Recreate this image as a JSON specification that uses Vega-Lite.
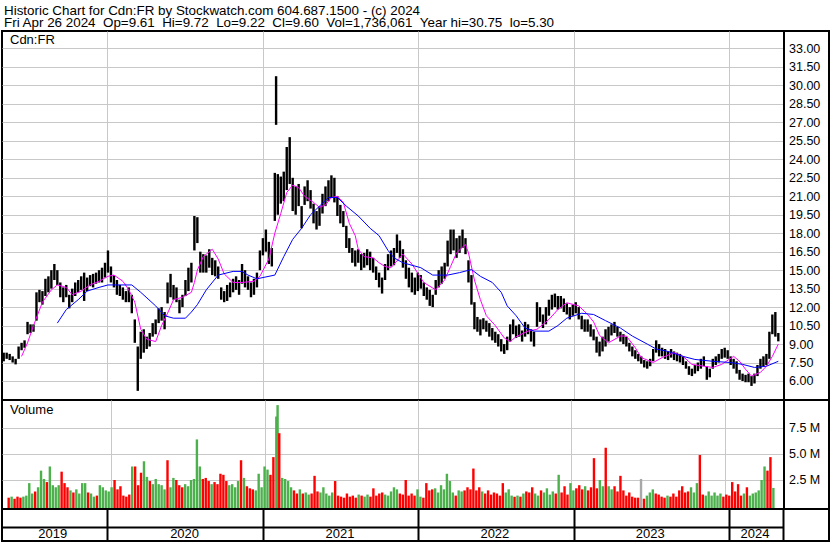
{
"$schema": "https://vega.github.io/schema/vega-lite/v6.json",
"padding": {"left": 1, "top": 1, "right": 1, "bottom": 1},
"background": "white",
"spacing": 0,
"bounds": "flush",
"config": {
  "font": "Liberation Sans",
  "view": {"stroke": "black", "strokeWidth": 2},
  "title": {"fontWeight": "normal", "color": "black", "fontSize": 13, "anchor": "start", "frame": "group", "font": "Liberation Sans"},
  "axis": {"labelColor": "black", "title": null, "labelOverlap": false, "labelFont": "Liberation Sans"},
  "axisY": {"labelOverlap": false}
},
"datasets": {
"px": [
{"d":"2019-05-03","l":7.6,"h":8.3,"v":800000,"u":"d"},
{"d":"2019-05-10","l":7.8,"h":8.3,"v":900000,"u":"u"},
{"d":"2019-05-17","l":7.7,"h":8.2,"v":700000,"u":"d"},
{"d":"2019-05-24","l":7.5,"h":8.0,"v":900000,"u":"d"},
{"d":"2019-05-31","l":7.35,"h":7.8,"v":800000,"u":"d"},
{"d":"2019-06-07","l":7.8,"h":8.8,"v":900000,"u":"u"},
{"d":"2019-06-14","l":8.5,"h":9.1,"v":1000000,"u":"u"},
{"d":"2019-06-21","l":8.7,"h":9.3,"v":2200000,"u":"u"},
{"d":"2019-06-28","l":9.8,"h":10.8,"v":1200000,"u":"u"},
{"d":"2019-07-05","l":9.9,"h":10.6,"v":1400000,"u":"d"},
{"d":"2019-07-12","l":10.0,"h":10.6,"v":1800000,"u":"u"},
{"d":"2019-07-19","l":10.9,"h":13.2,"v":3400000,"u":"u"},
{"d":"2019-07-26","l":12.4,"h":13.4,"v":2600000,"u":"u"},
{"d":"2019-08-02","l":12.2,"h":13.3,"v":2300000,"u":"d"},
{"d":"2019-08-09","l":12.9,"h":14.3,"v":3800000,"u":"u"},
{"d":"2019-08-16","l":13.2,"h":14.5,"v":2000000,"u":"u"},
{"d":"2019-08-23","l":13.5,"h":15.0,"v":1800000,"u":"u"},
{"d":"2019-08-30","l":14.2,"h":15.5,"v":2000000,"u":"u"},
{"d":"2019-09-06","l":13.8,"h":15.0,"v":3300000,"u":"d"},
{"d":"2019-09-13","l":12.8,"h":14.0,"v":2200000,"u":"d"},
{"d":"2019-09-20","l":12.4,"h":13.6,"v":1800000,"u":"d"},
{"d":"2019-09-27","l":12.8,"h":13.8,"v":1500000,"u":"u"},
{"d":"2019-10-04","l":11.9,"h":13.0,"v":1300000,"u":"d"},
{"d":"2019-10-11","l":12.4,"h":13.5,"v":1600000,"u":"u"},
{"d":"2019-10-18","l":12.9,"h":14.0,"v":1200000,"u":"u"},
{"d":"2019-10-25","l":13.2,"h":14.2,"v":2200000,"u":"u"},
{"d":"2019-11-01","l":13.4,"h":14.5,"v":2200000,"u":"u"},
{"d":"2019-11-08","l":12.5,"h":14.8,"v":1300000,"u":"d"},
{"d":"2019-11-15","l":13.3,"h":14.4,"v":1200000,"u":"u"},
{"d":"2019-11-22","l":13.7,"h":14.6,"v":900000,"u":"u"},
{"d":"2019-11-29","l":13.6,"h":14.7,"v":1000000,"u":"d"},
{"d":"2019-12-06","l":13.9,"h":14.8,"v":2000000,"u":"u"},
{"d":"2019-12-13","l":14.0,"h":15.0,"v":1800000,"u":"u"},
{"d":"2019-12-20","l":14.0,"h":15.2,"v":1500000,"u":"u"},
{"d":"2019-12-27","l":14.4,"h":15.6,"v":1400000,"u":"u"},
{"d":"2020-01-03","l":14.8,"h":16.6,"v":1800000,"u":"u"},
{"d":"2020-01-10","l":14.0,"h":15.3,"v":2500000,"u":"d"},
{"d":"2020-01-17","l":13.6,"h":14.6,"v":1600000,"u":"d"},
{"d":"2020-01-24","l":13.0,"h":14.2,"v":1900000,"u":"d"},
{"d":"2020-01-31","l":12.9,"h":13.8,"v":1000000,"u":"d"},
{"d":"2020-02-07","l":12.6,"h":13.6,"v":900000,"u":"d"},
{"d":"2020-02-14","l":12.4,"h":13.3,"v":1100000,"u":"d"},
{"d":"2020-02-21","l":12.4,"h":13.6,"v":3800000,"u":"u"},
{"d":"2020-02-28","l":11.5,"h":13.0,"v":3800000,"u":"d"},
{"d":"2020-03-06","l":9.1,"h":11.0,"v":2000000,"u":"d"},
{"d":"2020-03-13","l":5.2,"h":8.8,"v":3200000,"u":"d"},
{"d":"2020-03-20","l":7.8,"h":10.0,"v":4300000,"u":"u"},
{"d":"2020-03-27","l":8.3,"h":10.2,"v":2800000,"u":"u"},
{"d":"2020-04-03","l":8.6,"h":9.6,"v":2400000,"u":"d"},
{"d":"2020-04-10","l":8.8,"h":9.9,"v":2100000,"u":"u"},
{"d":"2020-04-17","l":9.6,"h":10.7,"v":2600000,"u":"u"},
{"d":"2020-04-24","l":9.8,"h":11.0,"v":2100000,"u":"u"},
{"d":"2020-05-01","l":10.7,"h":11.9,"v":2000000,"u":"u"},
{"d":"2020-05-08","l":10.9,"h":12.0,"v":1600000,"u":"u"},
{"d":"2020-05-15","l":10.2,"h":11.6,"v":4400000,"u":"d"},
{"d":"2020-05-22","l":12.3,"h":14.0,"v":1800000,"u":"u"},
{"d":"2020-05-29","l":12.8,"h":14.7,"v":2700000,"u":"u"},
{"d":"2020-06-05","l":12.6,"h":13.8,"v":2500000,"u":"d"},
{"d":"2020-06-12","l":12.4,"h":13.6,"v":2000000,"u":"d"},
{"d":"2020-06-19","l":11.5,"h":12.6,"v":1800000,"u":"d"},
{"d":"2020-06-26","l":12.0,"h":13.0,"v":2100000,"u":"u"},
{"d":"2020-07-03","l":12.9,"h":14.2,"v":1900000,"u":"u"},
{"d":"2020-07-10","l":13.3,"h":15.2,"v":2500000,"u":"u"},
{"d":"2020-07-17","l":14.0,"h":15.6,"v":2600000,"u":"u"},
{"d":"2020-07-24","l":16.6,"h":19.4,"v":6400000,"u":"u"},
{"d":"2020-07-31","l":17.2,"h":19.3,"v":3800000,"u":"u"},
{"d":"2020-08-07","l":14.8,"h":16.5,"v":2600000,"u":"d"},
{"d":"2020-08-14","l":14.8,"h":16.3,"v":2700000,"u":"d"},
{"d":"2020-08-21","l":14.8,"h":16.2,"v":2400000,"u":"d"},
{"d":"2020-08-28","l":15.2,"h":16.7,"v":2100000,"u":"u"},
{"d":"2020-09-04","l":14.6,"h":16.0,"v":2300000,"u":"d"},
{"d":"2020-09-11","l":14.5,"h":15.8,"v":2100000,"u":"d"},
{"d":"2020-09-18","l":14.3,"h":15.3,"v":3100000,"u":"d"},
{"d":"2020-09-25","l":12.6,"h":13.6,"v":3000000,"u":"d"},
{"d":"2020-10-02","l":12.4,"h":13.3,"v":2400000,"u":"d"},
{"d":"2020-10-09","l":12.5,"h":13.8,"v":2000000,"u":"u"},
{"d":"2020-10-16","l":12.8,"h":14.0,"v":2100000,"u":"u"},
{"d":"2020-10-23","l":13.2,"h":14.3,"v":1800000,"u":"u"},
{"d":"2020-10-30","l":13.4,"h":14.5,"v":2400000,"u":"u"},
{"d":"2020-11-06","l":13.0,"h":14.2,"v":4400000,"u":"d"},
{"d":"2020-11-13","l":13.9,"h":15.5,"v":2700000,"u":"u"},
{"d":"2020-11-20","l":13.6,"h":15.0,"v":1900000,"u":"d"},
{"d":"2020-11-27","l":13.4,"h":14.5,"v":1700000,"u":"d"},
{"d":"2020-12-04","l":12.8,"h":14.0,"v":1600000,"u":"d"},
{"d":"2020-12-11","l":13.0,"h":14.3,"v":1500000,"u":"u"},
{"d":"2020-12-18","l":13.6,"h":14.8,"v":3100000,"u":"u"},
{"d":"2020-12-25","l":15.0,"h":16.6,"v":1800000,"u":"u"},
{"d":"2021-01-01","l":16.2,"h":17.6,"v":3800000,"u":"u"},
{"d":"2021-01-08","l":16.5,"h":18.3,"v":3500000,"u":"u"},
{"d":"2021-01-15","l":15.5,"h":17.3,"v":3000000,"u":"d"},
{"d":"2021-01-22","l":15.3,"h":16.8,"v":4700000,"u":"d"},
{"d":"2021-01-29","l":19.0,"h":22.9,"v":8600000,"u":"u"},
{"d":"2021-02-01","l":26.8,"h":30.75,"v":9700000,"u":"u"},
{"d":"2021-02-05","l":19.5,"h":22.8,"v":7000000,"u":"d"},
{"d":"2021-02-12","l":20.4,"h":22.6,"v":2700000,"u":"u"},
{"d":"2021-02-19","l":20.6,"h":23.0,"v":2600000,"u":"u"},
{"d":"2021-02-26","l":21.5,"h":25.0,"v":2400000,"u":"u"},
{"d":"2021-03-05","l":22.0,"h":25.8,"v":1800000,"u":"u"},
{"d":"2021-03-12","l":19.8,"h":22.5,"v":1500000,"u":"d"},
{"d":"2021-03-19","l":19.5,"h":21.8,"v":1200000,"u":"d"},
{"d":"2021-03-26","l":20.2,"h":22.0,"v":1600000,"u":"u"},
{"d":"2021-04-02","l":18.4,"h":20.2,"v":1200000,"u":"d"},
{"d":"2021-04-09","l":20.3,"h":21.8,"v":1300000,"u":"u"},
{"d":"2021-04-16","l":20.6,"h":22.3,"v":1100000,"u":"u"},
{"d":"2021-04-23","l":20.0,"h":21.5,"v":1200000,"u":"d"},
{"d":"2021-04-30","l":18.8,"h":20.4,"v":2900000,"u":"d"},
{"d":"2021-05-07","l":18.3,"h":19.8,"v":1400000,"u":"d"},
{"d":"2021-05-14","l":18.6,"h":20.2,"v":1300000,"u":"u"},
{"d":"2021-05-21","l":19.6,"h":21.2,"v":1800000,"u":"u"},
{"d":"2021-05-28","l":20.2,"h":21.8,"v":1200000,"u":"u"},
{"d":"2021-06-04","l":20.6,"h":22.3,"v":1000000,"u":"u"},
{"d":"2021-06-11","l":20.9,"h":22.7,"v":1300000,"u":"u"},
{"d":"2021-06-18","l":20.5,"h":22.5,"v":2400000,"u":"d"},
{"d":"2021-06-25","l":19.4,"h":21.0,"v":1000000,"u":"d"},
{"d":"2021-07-02","l":18.8,"h":20.3,"v":900000,"u":"d"},
{"d":"2021-07-09","l":18.5,"h":19.8,"v":800000,"u":"d"},
{"d":"2021-07-16","l":16.8,"h":18.6,"v":1200000,"u":"d"},
{"d":"2021-07-23","l":16.4,"h":17.6,"v":900000,"u":"d"},
{"d":"2021-07-30","l":15.6,"h":16.8,"v":1000000,"u":"d"},
{"d":"2021-08-06","l":15.3,"h":16.6,"v":800000,"u":"d"},
{"d":"2021-08-13","l":15.6,"h":16.7,"v":1100000,"u":"u"},
{"d":"2021-08-20","l":15.0,"h":16.3,"v":1000000,"u":"d"},
{"d":"2021-08-27","l":15.2,"h":16.4,"v":900000,"u":"u"},
{"d":"2021-09-03","l":15.4,"h":16.7,"v":1100000,"u":"u"},
{"d":"2021-09-10","l":15.0,"h":16.5,"v":900000,"u":"d"},
{"d":"2021-09-17","l":14.8,"h":16.0,"v":1700000,"u":"d"},
{"d":"2021-09-24","l":14.2,"h":15.3,"v":1000000,"u":"d"},
{"d":"2021-10-01","l":13.6,"h":14.8,"v":1200000,"u":"d"},
{"d":"2021-10-08","l":13.1,"h":14.4,"v":1300000,"u":"d"},
{"d":"2021-10-15","l":14.2,"h":15.5,"v":1100000,"u":"u"},
{"d":"2021-10-22","l":15.0,"h":16.3,"v":1000000,"u":"u"},
{"d":"2021-10-29","l":15.3,"h":16.6,"v":1400000,"u":"u"},
{"d":"2021-11-05","l":15.4,"h":16.8,"v":1800000,"u":"u"},
{"d":"2021-11-12","l":16.4,"h":17.9,"v":1600000,"u":"u"},
{"d":"2021-11-19","l":16.0,"h":17.4,"v":1200000,"u":"d"},
{"d":"2021-11-26","l":15.2,"h":16.7,"v":1100000,"u":"d"},
{"d":"2021-12-03","l":14.3,"h":15.8,"v":2500000,"u":"d"},
{"d":"2021-12-10","l":13.6,"h":15.2,"v":1000000,"u":"d"},
{"d":"2021-12-17","l":13.2,"h":14.8,"v":1200000,"u":"d"},
{"d":"2021-12-24","l":13.0,"h":14.4,"v":1000000,"u":"d"},
{"d":"2021-12-31","l":13.3,"h":14.8,"v":1600000,"u":"u"},
{"d":"2022-01-07","l":13.5,"h":14.6,"v":900000,"u":"u"},
{"d":"2022-01-14","l":12.9,"h":14.0,"v":800000,"u":"d"},
{"d":"2022-01-21","l":12.6,"h":13.6,"v":2200000,"u":"d"},
{"d":"2022-01-28","l":12.1,"h":13.4,"v":1500000,"u":"d"},
{"d":"2022-02-04","l":12.0,"h":13.0,"v":1600000,"u":"d"},
{"d":"2022-02-11","l":13.0,"h":14.2,"v":1700000,"u":"u"},
{"d":"2022-02-18","l":13.6,"h":15.0,"v":1300000,"u":"u"},
{"d":"2022-02-25","l":13.9,"h":15.3,"v":2000000,"u":"u"},
{"d":"2022-03-04","l":14.3,"h":15.6,"v":1600000,"u":"u"},
{"d":"2022-03-11","l":15.3,"h":17.4,"v":3100000,"u":"u"},
{"d":"2022-03-18","l":16.3,"h":18.3,"v":2400000,"u":"u"},
{"d":"2022-03-25","l":16.6,"h":18.3,"v":1300000,"u":"u"},
{"d":"2022-04-01","l":16.0,"h":17.6,"v":1000000,"u":"d"},
{"d":"2022-04-08","l":16.4,"h":17.8,"v":1500000,"u":"u"},
{"d":"2022-04-15","l":16.8,"h":18.3,"v":1400000,"u":"u"},
{"d":"2022-04-22","l":16.3,"h":17.6,"v":1500000,"u":"d"},
{"d":"2022-04-29","l":14.0,"h":15.8,"v":1800000,"u":"d"},
{"d":"2022-05-06","l":12.2,"h":14.6,"v":1600000,"u":"d"},
{"d":"2022-05-13","l":10.2,"h":12.4,"v":3600000,"u":"d"},
{"d":"2022-05-20","l":10.0,"h":11.2,"v":1500000,"u":"d"},
{"d":"2022-05-27","l":9.7,"h":11.0,"v":1800000,"u":"d"},
{"d":"2022-06-03","l":10.2,"h":11.1,"v":1400000,"u":"u"},
{"d":"2022-06-10","l":10.0,"h":10.9,"v":1200000,"u":"d"},
{"d":"2022-06-17","l":9.6,"h":10.7,"v":1500000,"u":"d"},
{"d":"2022-06-24","l":9.3,"h":10.3,"v":1100000,"u":"d"},
{"d":"2022-07-01","l":9.1,"h":10.0,"v":1300000,"u":"d"},
{"d":"2022-07-08","l":8.8,"h":9.8,"v":1200000,"u":"d"},
{"d":"2022-07-15","l":8.4,"h":9.4,"v":1000000,"u":"d"},
{"d":"2022-07-22","l":8.2,"h":9.0,"v":2200000,"u":"d"},
{"d":"2022-07-29","l":8.5,"h":9.6,"v":1300000,"u":"u"},
{"d":"2022-08-05","l":9.2,"h":10.6,"v":1600000,"u":"u"},
{"d":"2022-08-12","l":9.8,"h":11.0,"v":1000000,"u":"u"},
{"d":"2022-08-19","l":9.5,"h":10.5,"v":900000,"u":"d"},
{"d":"2022-08-26","l":9.6,"h":10.6,"v":1000000,"u":"u"},
{"d":"2022-09-02","l":9.2,"h":10.1,"v":900000,"u":"d"},
{"d":"2022-09-09","l":9.6,"h":10.8,"v":1200000,"u":"u"},
{"d":"2022-09-16","l":9.8,"h":10.6,"v":1400000,"u":"d"},
{"d":"2022-09-23","l":9.2,"h":10.2,"v":1300000,"u":"d"},
{"d":"2022-09-30","l":8.8,"h":10.0,"v":1800000,"u":"d"},
{"d":"2022-10-07","l":10.4,"h":12.4,"v":1200000,"u":"u"},
{"d":"2022-10-14","l":10.8,"h":12.0,"v":1000000,"u":"u"},
{"d":"2022-10-21","l":10.3,"h":11.4,"v":1500000,"u":"d"},
{"d":"2022-10-28","l":10.6,"h":12.0,"v":1300000,"u":"u"},
{"d":"2022-11-04","l":11.3,"h":12.6,"v":1700000,"u":"u"},
{"d":"2022-11-11","l":11.8,"h":13.0,"v":1100000,"u":"u"},
{"d":"2022-11-18","l":12.0,"h":13.1,"v":1400000,"u":"u"},
{"d":"2022-11-25","l":11.8,"h":12.9,"v":1200000,"u":"d"},
{"d":"2022-12-02","l":11.9,"h":12.9,"v":3000000,"u":"u"},
{"d":"2022-12-09","l":11.6,"h":12.7,"v":1300000,"u":"d"},
{"d":"2022-12-16","l":11.4,"h":12.3,"v":1900000,"u":"d"},
{"d":"2022-12-23","l":11.0,"h":12.0,"v":1100000,"u":"d"},
{"d":"2022-12-30","l":11.3,"h":12.2,"v":2200000,"u":"u"},
{"d":"2023-01-06","l":11.5,"h":12.4,"v":1500000,"u":"u"},
{"d":"2023-01-13","l":11.0,"h":12.0,"v":1700000,"u":"d"},
{"d":"2023-01-20","l":10.2,"h":11.3,"v":2000000,"u":"d"},
{"d":"2023-01-27","l":10.0,"h":11.0,"v":1600000,"u":"d"},
{"d":"2023-02-03","l":10.0,"h":11.0,"v":1900000,"u":"u"},
{"d":"2023-02-10","l":9.6,"h":10.6,"v":1500000,"u":"d"},
{"d":"2023-02-17","l":9.3,"h":10.2,"v":1800000,"u":"d"},
{"d":"2023-02-24","l":8.3,"h":9.6,"v":4600000,"u":"d"},
{"d":"2023-03-03","l":8.0,"h":9.2,"v":1700000,"u":"d"},
{"d":"2023-03-10","l":8.4,"h":9.6,"v":2500000,"u":"u"},
{"d":"2023-03-17","l":8.8,"h":10.2,"v":1900000,"u":"u"},
{"d":"2023-03-24","l":9.2,"h":10.4,"v":5600000,"u":"d"},
{"d":"2023-03-31","l":9.7,"h":10.6,"v":1900000,"u":"u"},
{"d":"2023-04-07","l":9.9,"h":10.8,"v":1600000,"u":"u"},
{"d":"2023-04-14","l":9.6,"h":10.4,"v":1900000,"u":"d"},
{"d":"2023-04-21","l":9.2,"h":10.0,"v":1400000,"u":"d"},
{"d":"2023-04-28","l":9.0,"h":9.8,"v":2900000,"u":"d"},
{"d":"2023-05-05","l":8.8,"h":9.6,"v":1500000,"u":"d"},
{"d":"2023-05-12","l":8.4,"h":9.1,"v":1000000,"u":"d"},
{"d":"2023-05-19","l":8.0,"h":8.8,"v":1300000,"u":"d"},
{"d":"2023-05-26","l":7.8,"h":8.5,"v":900000,"u":"d"},
{"d":"2023-06-02","l":7.6,"h":8.2,"v":800000,"u":"d"},
{"d":"2023-06-09","l":7.4,"h":8.0,"v":800000,"u":"d"},
{"d":"2023-06-16","l":7.1,"h":7.7,"v":2600000,"u":"n"},
{"d":"2023-06-23","l":7.0,"h":7.6,"v":700000,"u":"d"},
{"d":"2023-06-30","l":7.2,"h":7.8,"v":1000000,"u":"u"},
{"d":"2023-07-07","l":7.6,"h":8.6,"v":1300000,"u":"u"},
{"d":"2023-07-14","l":8.3,"h":9.3,"v":1600000,"u":"u"},
{"d":"2023-07-21","l":8.0,"h":9.0,"v":1200000,"u":"d"},
{"d":"2023-07-28","l":8.0,"h":8.7,"v":1100000,"u":"d"},
{"d":"2023-08-04","l":7.8,"h":8.6,"v":900000,"u":"d"},
{"d":"2023-08-11","l":7.7,"h":8.4,"v":800000,"u":"d"},
{"d":"2023-08-18","l":7.9,"h":8.6,"v":1000000,"u":"u"},
{"d":"2023-08-25","l":7.7,"h":8.4,"v":900000,"u":"d"},
{"d":"2023-09-01","l":7.6,"h":8.3,"v":1200000,"u":"d"},
{"d":"2023-09-08","l":7.5,"h":8.2,"v":900000,"u":"d"},
{"d":"2023-09-15","l":7.3,"h":8.0,"v":1500000,"u":"d"},
{"d":"2023-09-22","l":7.0,"h":7.6,"v":1900000,"u":"d"},
{"d":"2023-09-29","l":6.5,"h":7.2,"v":1300000,"u":"d"},
{"d":"2023-10-06","l":6.4,"h":7.0,"v":1400000,"u":"d"},
{"d":"2023-10-13","l":6.6,"h":7.3,"v":1800000,"u":"u"},
{"d":"2023-10-20","l":6.8,"h":7.5,"v":1300000,"u":"u"},
{"d":"2023-10-27","l":7.0,"h":7.8,"v":2200000,"u":"u"},
{"d":"2023-11-03","l":7.2,"h":8.0,"v":4900000,"u":"d"},
{"d":"2023-11-10","l":6.1,"h":7.2,"v":1100000,"u":"d"},
{"d":"2023-11-17","l":6.3,"h":7.0,"v":1000000,"u":"u"},
{"d":"2023-11-24","l":7.0,"h":7.8,"v":1400000,"u":"u"},
{"d":"2023-12-01","l":7.3,"h":8.0,"v":1000000,"u":"u"},
{"d":"2023-12-08","l":7.5,"h":8.2,"v":1300000,"u":"u"},
{"d":"2023-12-15","l":7.8,"h":8.6,"v":1000000,"u":"u"},
{"d":"2023-12-22","l":7.9,"h":8.7,"v":1200000,"u":"u"},
{"d":"2023-12-29","l":7.8,"h":8.5,"v":900000,"u":"d"},
{"d":"2024-01-05","l":7.3,"h":8.0,"v":1100000,"u":"d"},
{"d":"2024-01-12","l":7.0,"h":7.8,"v":1000000,"u":"d"},
{"d":"2024-01-19","l":6.6,"h":7.6,"v":2300000,"u":"d"},
{"d":"2024-01-26","l":6.1,"h":6.9,"v":1400000,"u":"d"},
{"d":"2024-02-02","l":6.0,"h":6.6,"v":2100000,"u":"d"},
{"d":"2024-02-09","l":5.9,"h":6.5,"v":1000000,"u":"d"},
{"d":"2024-02-16","l":5.9,"h":6.6,"v":1200000,"u":"u"},
{"d":"2024-02-23","l":5.6,"h":6.4,"v":1800000,"u":"d"},
{"d":"2024-03-01","l":5.8,"h":6.6,"v":1000000,"u":"u"},
{"d":"2024-03-08","l":6.4,"h":7.3,"v":1200000,"u":"u"},
{"d":"2024-03-15","l":7.0,"h":7.8,"v":1300000,"u":"u"},
{"d":"2024-03-22","l":7.2,"h":8.0,"v":1500000,"u":"u"},
{"d":"2024-03-29","l":7.3,"h":8.2,"v":2500000,"u":"u"},
{"d":"2024-04-05","l":7.8,"h":10.0,"v":3800000,"u":"u"},
{"d":"2024-04-12","l":9.8,"h":11.4,"v":3400000,"u":"d"},
{"d":"2024-04-19","l":9.6,"h":11.6,"v":4700000,"u":"d"},
{"d":"2024-04-26","l":9.22,"h":9.9,"v":1736061,"u":"u"}
],
"fast": [
{"d":"2019-06-14","m":8.0},{"d":"2019-06-28","m":9.1},{"d":"2019-07-12","m":10.5},{"d":"2019-08-02","m":12.4},
{"d":"2019-08-23","m":13.4},{"d":"2019-09-06","m":13.8},{"d":"2019-09-27","m":13.6},{"d":"2019-10-11","m":13.0},
{"d":"2019-11-01","m":13.3},{"d":"2019-11-22","m":13.8},{"d":"2019-12-13","m":14.1},{"d":"2020-01-03","m":14.5},
{"d":"2020-01-17","m":14.6},{"d":"2020-02-07","m":14.1},{"d":"2020-02-21","m":13.4},{"d":"2020-03-06","m":12.4},
{"d":"2020-03-20","m":10.2},{"d":"2020-04-03","m":9.4},{"d":"2020-04-24","m":9.2},{"d":"2020-05-08","m":10.5},
{"d":"2020-05-22","m":11.5},{"d":"2020-06-05","m":12.6},{"d":"2020-06-26","m":12.8},{"d":"2020-07-17","m":13.2},
{"d":"2020-07-24","m":14.0},{"d":"2020-07-31","m":15.0},{"d":"2020-08-14","m":16.1},{"d":"2020-09-04","m":16.7},
{"d":"2020-09-18","m":15.9},{"d":"2020-10-02","m":14.7},{"d":"2020-10-23","m":14.0},{"d":"2020-11-13","m":14.0},
{"d":"2020-12-11","m":14.1},{"d":"2020-12-25","m":14.5},{"d":"2021-01-15","m":15.9},{"d":"2021-01-29","m":18.0},
{"d":"2021-02-12","m":19.6},{"d":"2021-02-26","m":21.3},{"d":"2021-03-12","m":21.9},{"d":"2021-03-26","m":21.7},
{"d":"2021-04-09","m":21.0},{"d":"2021-04-30","m":20.5},{"d":"2021-05-14","m":20.1},{"d":"2021-05-28","m":20.3},
{"d":"2021-06-11","m":20.9},{"d":"2021-06-25","m":21.0},{"d":"2021-07-09","m":20.5},{"d":"2021-07-23","m":18.8},
{"d":"2021-08-06","m":17.8},{"d":"2021-08-13","m":16.7},{"d":"2021-08-27","m":16.1},{"d":"2021-09-17","m":16.0},
{"d":"2021-10-01","m":15.6},{"d":"2021-10-15","m":15.3},{"d":"2021-10-29","m":15.2},{"d":"2021-11-26","m":16.3},
{"d":"2021-12-17","m":15.5},{"d":"2022-01-14","m":14.0},{"d":"2022-02-11","m":13.4},{"d":"2022-03-04","m":14.2},
{"d":"2022-03-18","m":15.3},{"d":"2022-04-01","m":16.4},{"d":"2022-04-22","m":17.1},{"d":"2022-04-29","m":16.4},
{"d":"2022-05-13","m":14.2},{"d":"2022-05-27","m":12.6},{"d":"2022-06-10","m":11.3},{"d":"2022-07-01","m":10.5},
{"d":"2022-07-22","m":9.5},{"d":"2022-08-05","m":9.2},{"d":"2022-08-19","m":9.6},{"d":"2022-09-16","m":10.05},
{"d":"2022-10-07","m":10.2},{"d":"2022-11-04","m":11.0},{"d":"2022-11-25","m":11.8},{"d":"2022-12-16","m":12.35},
{"d":"2023-01-13","m":12.1},{"d":"2023-02-03","m":11.4},{"d":"2023-02-17","m":10.8},{"d":"2023-03-03","m":9.7},
{"d":"2023-03-24","m":9.1},{"d":"2023-04-21","m":9.65},{"d":"2023-05-05","m":9.65},{"d":"2023-05-26","m":8.7},
{"d":"2023-06-09","m":7.9},{"d":"2023-07-07","m":7.5},{"d":"2023-07-28","m":7.9},{"d":"2023-08-25","m":8.3},
{"d":"2023-09-15","m":8.0},{"d":"2023-10-06","m":7.35},{"d":"2023-11-03","m":7.2},{"d":"2023-11-24","m":7.1},
{"d":"2023-12-15","m":7.35},{"d":"2024-01-12","m":8.0},{"d":"2024-01-26","m":7.6},{"d":"2024-02-09","m":6.95},
{"d":"2024-02-23","m":6.4},{"d":"2024-03-15","m":6.7},{"d":"2024-03-29","m":7.2},{"d":"2024-04-12","m":8.0},
{"d":"2024-04-26","m":9.0}
],
"slow": [
{"d":"2019-09-06","m":10.7},{"d":"2019-09-27","m":11.8},{"d":"2019-10-25","m":12.6},{"d":"2019-11-15","m":13.3},
{"d":"2019-12-13","m":13.6},{"d":"2020-01-03","m":13.8},{"d":"2020-01-24","m":13.8},{"d":"2020-02-28","m":13.8},
{"d":"2020-03-20","m":13.2},{"d":"2020-04-24","m":12.1},{"d":"2020-05-15","m":11.3},{"d":"2020-06-05","m":11.1},
{"d":"2020-07-03","m":11.1},{"d":"2020-07-17","m":11.6},{"d":"2020-07-31","m":12.2},{"d":"2020-08-21","m":13.4},
{"d":"2020-09-18","m":14.6},{"d":"2020-10-23","m":14.9},{"d":"2020-11-13","m":14.9},{"d":"2020-11-27","m":14.6},
{"d":"2020-12-18","m":14.3},{"d":"2021-01-29","m":14.6},{"d":"2021-02-19","m":16.1},{"d":"2021-03-12","m":17.5},
{"d":"2021-04-02","m":18.4},{"d":"2021-04-23","m":19.5},{"d":"2021-05-14","m":20.2},{"d":"2021-06-04","m":20.9},
{"d":"2021-06-25","m":20.9},{"d":"2021-07-16","m":20.2},{"d":"2021-08-13","m":19.4},{"d":"2021-09-10","m":18.4},
{"d":"2021-10-01","m":17.8},{"d":"2021-10-22","m":16.6},{"d":"2021-11-05","m":16.0},{"d":"2021-11-26","m":15.6},
{"d":"2022-01-07","m":15.2},{"d":"2022-02-04","m":14.6},{"d":"2022-03-11","m":14.6},{"d":"2022-04-08","m":14.8},
{"d":"2022-05-06","m":15.05},{"d":"2022-05-27","m":14.5},{"d":"2022-06-24","m":14.0},{"d":"2022-07-15","m":13.2},
{"d":"2022-07-29","m":12.1},{"d":"2022-08-19","m":11.3},{"d":"2022-09-09","m":10.3},{"d":"2022-09-30","m":10.05},
{"d":"2022-11-04","m":10.05},{"d":"2022-11-25","m":10.5},{"d":"2022-12-16","m":11.1},{"d":"2023-01-20","m":11.5},
{"d":"2023-02-17","m":11.4},{"d":"2023-03-17","m":10.9},{"d":"2023-04-21","m":10.3},{"d":"2023-05-19","m":9.65},
{"d":"2023-06-23","m":9.0},{"d":"2023-07-14","m":8.6},{"d":"2023-08-11","m":8.4},{"d":"2023-09-15","m":8.0},
{"d":"2023-10-13","m":7.75},{"d":"2023-11-24","m":7.6},{"d":"2024-01-05","m":7.5},{"d":"2024-02-02","m":7.35},
{"d":"2024-03-01","m":7.1},{"d":"2024-03-29","m":7.2},{"d":"2024-04-26","m":7.6}
],
"yrs": [
{"yr":"2019","m":"2019-08-26"},{"yr":"2020","m":"2020-07-01"},{"yr":"2021","m":"2021-07-01"},
{"yr":"2022","m":"2022-06-30"},{"yr":"2023","m":"2023-06-30"},{"yr":"2024","m":"2024-03-02"}
]
},
"vconcat": [
{
  "width": 827, "height": 30,
  "data": {"values": []},
  "mark": "rule",
  "encoding": {},
  "title": {
    "text": "Historic Chart for Cdn:FR by Stockwatch.com 604.687.1500 - (c) 2024",
    "subtitle": "Fri Apr 26 2024\u00a0\u00a0Op=9.61\u00a0\u00a0Hi=9.72\u00a0\u00a0Lo=9.22\u00a0\u00a0Cl=9.60\u00a0\u00a0Vol=1,736,061\u00a0\u00a0Year hi=30.75\u00a0\u00a0lo=5.30",
    "offset": -28, "dx": 2, "fontSize": 13.4, "font": "Liberation Sans",
    "subtitleFontSize": 13.4, "subtitleColor": "black", "subtitleFont": "Liberation Sans", "subtitlePadding": -2
  }
},
{
  "width": 827, "height": 369,
  "title": {"text": "Cdn:FR", "offset": -16, "dx": 8},
  "encoding": {
    "x": {"field": "d", "type": "temporal",
      "scale": {"type": "utc", "nice": false, "range": [0, 781],
        "domain": [{"year":2019,"month":4,"date":29,"utc":true},{"year":2024,"month":5,"date":7,"utc":true}]},
      "axis": {"orient": "bottom", "labels": false, "ticks": false, "domain": false, "grid": true, "gridColor": "#c8c8c8", "title": null,
        "values": [{"year":2020,"month":1,"date":1,"utc":true},{"year":2021,"month":1,"date":1,"utc":true},{"year":2022,"month":1,"date":1,"utc":true},{"year":2023,"month":1,"date":1,"utc":true},{"year":2024,"month":1,"date":1,"utc":true}]}},
    "y": {"type": "quantitative",
      "scale": {"domain": [4.457, 34.42], "nice": false, "zero": false},
      "axis": {"orient": "left", "offset": -781.5, "values": [6,7.5,9,10.5,12,13.5,15,16.5,18,19.5,21,22.5,24,25.5,27,28.5,30,31.5,33],
        "format": ".2f", "labelAlign": "left", "labelPadding": -5, "ticks": false, "tickSize": 0, "labelOverlap": false, "labelBound": false,
        "domain": true, "domainColor": "black", "domainWidth": 2, "grid": true, "gridColor": "#c8c8c8",
        "labelFontSize": 12.5, "labelBaseline": "middle", "title": null}}
  },
  "layer": [
    {"data": {"name": "px"},
     "mark": {"type": "rule", "color": "black", "strokeWidth": 2.4},
     "encoding": {"y": {"field": "l", "type": "quantitative"}, "y2": {"field": "h"}}},
    {"data": {"name": "fast"},
     "mark": {"type": "line", "color": "#ff00ff", "strokeWidth": 1},
     "encoding": {"y": {"field": "m", "type": "quantitative"}}},
    {"data": {"name": "slow"},
     "mark": {"type": "line", "color": "#0000ff", "strokeWidth": 1},
     "encoding": {"y": {"field": "m", "type": "quantitative"}}}
  ]
},
{
  "width": 827, "height": 109,
  "title": {"text": "Volume", "offset": -17, "dx": 8},
  "data": {"name": "px"},
  "mark": {"type": "bar", "size": 2.4},
  "encoding": {
    "x": {"field": "d", "type": "temporal",
      "scale": {"type": "utc", "nice": false, "range": [0, 781],
        "domain": [{"year":2019,"month":4,"date":29,"utc":true},{"year":2024,"month":5,"date":7,"utc":true}]},
      "axis": {"orient": "bottom", "labels": false, "ticks": false, "domain": false, "grid": true, "gridColor": "#c8c8c8", "title": null,
        "values": [{"year":2020,"month":1,"date":1,"utc":true},{"year":2021,"month":1,"date":1,"utc":true},{"year":2022,"month":1,"date":1,"utc":true},{"year":2023,"month":1,"date":1,"utc":true},{"year":2024,"month":1,"date":1,"utc":true}]}},
    "y": {"field": "v", "type": "quantitative",
      "scale": {"domain": [-288000, 10190000], "nice": false, "zero": false},
      "axis": {"orient": "left", "offset": -781.5, "values": [2500000, 5000000, 7500000],
        "labelExpr": "format(datum.value / 1000000, '.1f') + ' M'",
        "labelAlign": "left", "labelPadding": -5, "ticks": false, "tickSize": 0, "labelOverlap": false,
        "domain": true, "domainColor": "black", "domainWidth": 2, "grid": true, "gridColor": "#c8c8c8",
        "labelFontSize": 12.5, "labelBaseline": "middle", "title": null}},
    "y2": {"datum": -288000},
    "color": {"field": "u", "type": "nominal", "legend": null,
      "scale": {"domain": ["u", "d", "n"], "range": ["#4cb04c", "#ff0000", "#a8a8a8"]}}
  }
},
{
  "width": 827, "height": 32,
  "data": {"name": "yrs"},
  "mark": {"type": "text", "fontSize": 13, "dy": 9, "color": "black"},
  "encoding": {
    "x": {"field": "m", "type": "temporal",
      "scale": {"type": "utc", "nice": false, "range": [0, 781],
        "domain": [{"year":2019,"month":4,"date":29,"utc":true},{"year":2024,"month":5,"date":7,"utc":true}]},
      "axis": {"orient": "top", "offset": -18, "labels": false, "ticks": false, "domain": true, "domainColor": "black", "domainWidth": 2,
        "grid": true, "gridColor": "black", "gridWidth": 2, "title": null,
        "values": [{"year":2020,"month":1,"date":1,"utc":true},{"year":2021,"month":1,"date":1,"utc":true},{"year":2022,"month":1,"date":1,"utc":true},{"year":2023,"month":1,"date":1,"utc":true},{"year":2024,"month":1,"date":1,"utc":true},{"year":2024,"month":5,"date":7,"utc":true}]}},
    "text": {"field": "yr"}
  }
}
]
}
